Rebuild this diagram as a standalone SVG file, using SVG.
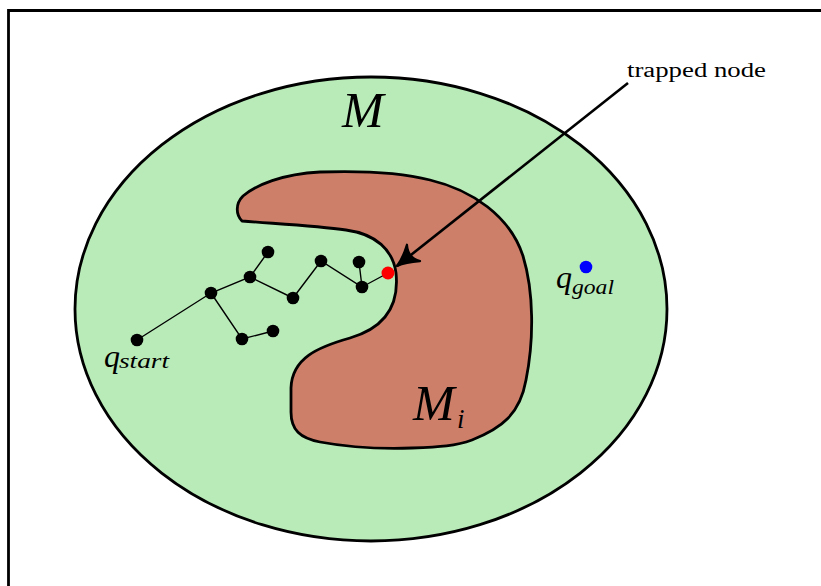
<svg xmlns="http://www.w3.org/2000/svg" width="821" height="586" viewBox="0 0 821 586">
<style>
.frame{fill:none;stroke:#000;stroke-width:2.8}
.region{stroke:#000;stroke-width:2.8}
.edge{stroke:#000;stroke-width:1.4;fill:none}
.node{fill:#000}
.lbl{font-family:"Liberation Serif","Times New Roman",serif;fill:#000}
.it{font-style:italic}
</style>
<defs>
<marker id="arr" markerUnits="userSpaceOnUse" markerWidth="30" markerHeight="30" viewBox="-16 -10 20 20" refX="0" refY="0" orient="auto">
<path d="M -14,-7 Q -6,-1.5 0,0 Q -6,1.5 -14,7 Q -9,0 -14,-7 Z" fill="#000" stroke="#000" stroke-width="1.5" stroke-linejoin="round"/>
</marker>
</defs>
<rect width="821" height="586" fill="#fff"/>
<path class="frame" d="M 8.5,590 L 8.5,10.5 L 825,10.5"/>
<g id="M">
<ellipse class="region" cx="371" cy="309" rx="296" ry="232" fill="#b9ebb9"/>
<text class="lbl it" x="342" y="127" font-size="50">M</text>
</g>
<g id="Mi">
<path class="region" fill="#cd7f6a" d="M 242,221 C 280,224 318,226 346,230 C 376,234 393,250 396,273 C 399,302 388,327 350,338 C 318,347 292,358 291,388 L 291,412 C 291,430 300,438 320,442 C 352,448 382,449 412,448 C 440,447 456,446 472,440 C 502,428 520,414 526,380 C 534,340 534,292 523,256 C 510,216 472,190 430,180 C 395,171 350,171 320,172 C 282,174 256,185 243,196 C 235,204 236,215 242,221 Z"/>
<text class="lbl it" x="413" y="420" font-size="50">M</text>
<text class="lbl it" x="457" y="428" font-size="27">i</text>
</g>
<g id="connectors">
<path class="edge" d="M 137,340 L 211,293 L 250,277 L 268,252 M 250,277 L 293,298 L 321,261 L 362,287 L 359,262 M 362,287 L 388,273 M 211,293 L 242,339 L 273,331"/>
<line x1="628" y1="83" x2="397" y2="266" stroke="#000" stroke-width="2.6" marker-end="url(#arr)"/>
</g>
<g id="tree-nodes">
<circle class="node" cx="137" cy="340" r="6.3"/>
<circle class="node" cx="211" cy="293" r="6.3"/>
<circle class="node" cx="250" cy="277" r="6.3"/>
<circle class="node" cx="268" cy="252" r="6.3"/>
<circle class="node" cx="293" cy="298" r="6.3"/>
<circle class="node" cx="321" cy="261" r="6.3"/>
<circle class="node" cx="359" cy="262" r="6.3"/>
<circle class="node" cx="362" cy="287" r="6.3"/>
<circle class="node" cx="242" cy="339" r="6.3"/>
<circle class="node" cx="273" cy="331" r="6.3"/>
</g>
<g id="trapped">
<circle cx="388" cy="273" r="6.5" fill="#ff0000"/>
<text class="lbl" x="627" y="77" font-size="20" textLength="139" lengthAdjust="spacingAndGlyphs">trapped node</text>
</g>
<g id="qstart">
<text class="lbl it" x="104" y="367" font-size="32">q</text>
<text class="lbl it" x="119" y="368" font-size="22" textLength="50" lengthAdjust="spacingAndGlyphs">start</text>
</g>
<g id="qgoal">
<circle cx="586" cy="267" r="6.3" fill="#0000ff"/>
<text class="lbl it" x="556" y="288" font-size="32">q</text>
<text class="lbl it" x="572" y="294" font-size="22" textLength="42" lengthAdjust="spacingAndGlyphs">goal</text>
</g>
</svg>
